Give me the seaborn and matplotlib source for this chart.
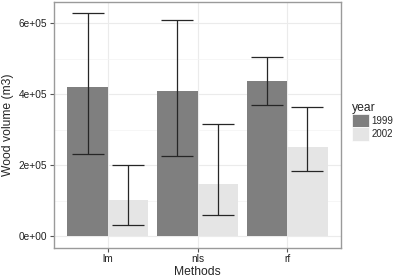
import matplotlib
matplotlib.use("Agg")
import matplotlib.pyplot as plt
import seaborn as sns
import pandas as pd
import numpy as np

methods = ["lm", "nls", "rf"]
years = ["1999", "2002"]
vol_1999 = [421000, 410700, 438000]
vol_2002 = [102000, 146300, 253000]
lo_1999 = [231500, 225000, 370500]
hi_1999 = [630000, 610400, 504400]
lo_2002 = [33000, 60000, 184800]
hi_2002 = [201700, 315900, 363700]
yticks = [0, 200000, 400000, 600000]
ytick_labels = ["0e+00", "2e+05", "4e+05", "6e+05"]

df = pd.DataFrame({
    "method": methods * 2,
    "year": ["1999"] * 3 + ["2002"] * 3,
    "vol": vol_1999 + vol_2002,
    "lo": lo_1999 + lo_2002,
    "hi": hi_1999 + hi_2002,
})

sns.set_theme(style="white")
plt.rcParams["font.family"] = ["Liberation Sans", "DejaVu Sans"]

W, H = 394, 277
fig = plt.figure(figsize=(W / 100, H / 100), dpi=100)
ax = fig.add_axes([54 / W, (H - 247.5) / H, 287 / W, 246 / H])

palette = {"1999": "#7f7f7f", "2002": "#e5e5e5"}
sns.barplot(data=df, x="method", y="vol", hue="year", hue_order=years,
            order=methods, palette=palette, width=0.9, errorbar=None,
            saturation=1, ax=ax, linewidth=0, zorder=2)

# error bars from bar geometry
bars = [p for p in ax.patches if p.get_height() > 0]
for yi, yr in enumerate(years):
    sub = df[df.year == yr].set_index("method").loc[methods]
    for mi, m in enumerate(methods):
        p = bars[yi * 3 + mi]
        cx = p.get_x() + p.get_width() / 2
        v = sub.loc[m, "vol"]
        ax.errorbar([cx], [v], yerr=[[v - sub.loc[m, "lo"]], [sub.loc[m, "hi"] - v]],
                    fmt="none", ecolor="#262626", elinewidth=0.9, capsize=11.2,
                    capthick=0.9, zorder=3)

ax.set_xlim(-0.6, 2.6)
ax.set_ylim(-31500, 661500)
ax.set_yticks(yticks)
ax.set_yticklabels(ytick_labels)
ax.set_yticks([100000, 300000, 500000], minor=True)
ax.grid(True, which="major", color="#ebebeb", linewidth=0.8, zorder=0)
ax.grid(True, which="minor", axis="y", color="#f3f3f3", linewidth=0.5, zorder=0)
ax.set_axisbelow(True)
for s in ax.spines.values():
    s.set_color("#9a9a9a")
    s.set_linewidth(1.0)
ax.tick_params(axis="both", which="major", length=3, width=0.8, color="#555555",
               labelsize=7.3, labelcolor="#222222", pad=2, bottom=True, left=True)
ax.tick_params(axis="y", which="minor", length=0)
ax.set_xlabel("Methods", fontsize=8.7, labelpad=1)
ax.set_ylabel("Wood volume (m3)", fontsize=8.7, labelpad=3)

leg = ax.legend(title="year", loc="upper left", bbox_to_anchor=(352 / W, (H - 102) / H),
                bbox_transform=fig.transFigure, frameon=False, fontsize=7,
                title_fontsize=8.7, handlelength=1.75, handleheight=1.75,
                handletextpad=0.25, labelspacing=0.0, borderpad=0, borderaxespad=0)
leg._legend_box.align = "left"
for h in leg.legend_handles:
    h.set_edgecolor("#ffffff")
    h.set_linewidth(0.5)

fig.savefig("out.png", dpi=100)
